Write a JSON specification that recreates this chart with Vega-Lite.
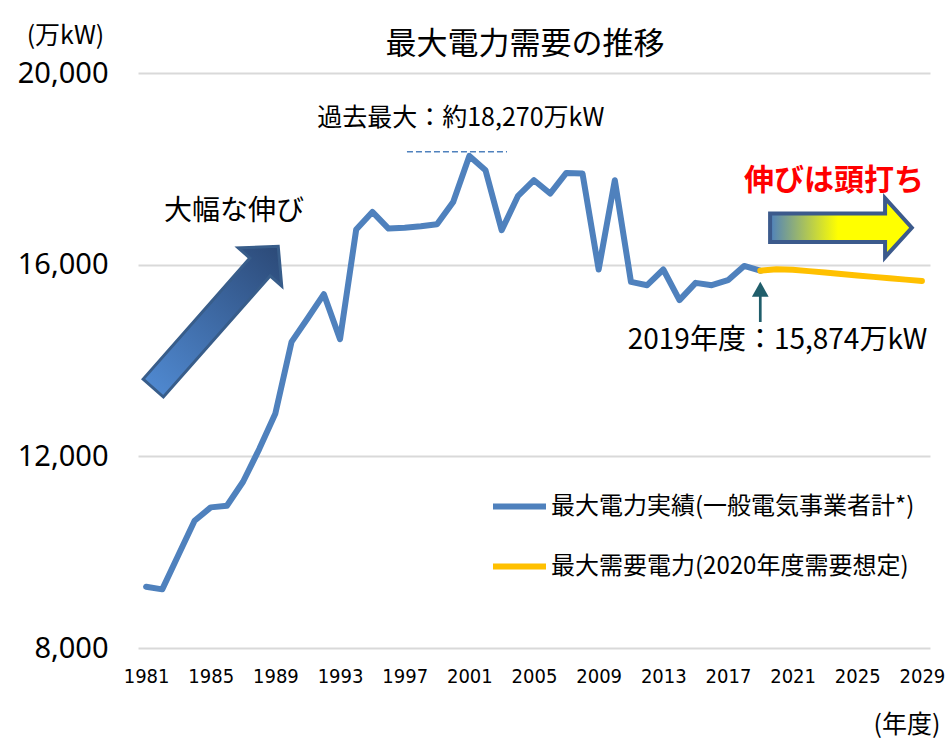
{
  "$schema": "https://vega.github.io/schema/vega-lite/v6.json",
  "autosize": {"type": "none"},
  "width": 792,
  "height": 575,
  "padding": {"left": 138, "top": 73, "right": 15, "bottom": 95},
  "background": "#ffffff",
  "title": {
    "text": "最大電力需要の推移",
    "font": "Noto Sans CJK JP",
    "fontSize": 31,
    "fontWeight": "normal",
    "color": "#000000",
    "anchor": "middle",
    "baseline": "bottom",
    "offset": -69,
    "dx": -9
  },
  "config": {
    "view": {"stroke": null},
    "legend": {
      "orient": "none",
      "legendX": 352,
      "legendY": 404,
      "padding": 0,
      "symbolType": "stroke",
      "symbolSize": 2809,
      "symbolStrokeWidth": 6,
      "labelFont": "Noto Sans CJK JP",
      "labelFontSize": 24,
      "labelColor": "#000000",
      "labelOffset": 2,
      "labelLimit": 600,
      "rowPadding": 18
    }
  },
  "layer": [
    {
      "data": {
        "values": [
          {"year": 1981, "value": 9279, "series": "最大電力実績(一般電気事業者計*)"},
          {"year": 1982, "value": 9224, "series": "最大電力実績(一般電気事業者計*)"},
          {"year": 1983, "value": 9940, "series": "最大電力実績(一般電気事業者計*)"},
          {"year": 1984, "value": 10655, "series": "最大電力実績(一般電気事業者計*)"},
          {"year": 1985, "value": 10935, "series": "最大電力実績(一般電気事業者計*)"},
          {"year": 1986, "value": 10968, "series": "最大電力実績(一般電気事業者計*)"},
          {"year": 1987, "value": 11469, "series": "最大電力実績(一般電気事業者計*)"},
          {"year": 1988, "value": 12151, "series": "最大電力実績(一般電気事業者計*)"},
          {"year": 1989, "value": 12896, "series": "最大電力実績(一般電気事業者計*)"},
          {"year": 1990, "value": 14389, "series": "最大電力実績(一般電気事業者計*)"},
          {"year": 1991, "value": 14883, "series": "最大電力実績(一般電気事業者計*)"},
          {"year": 1992, "value": 15384, "series": "最大電力実績(一般電気事業者計*)"},
          {"year": 1993, "value": 14445, "series": "最大電力実績(一般電気事業者計*)"},
          {"year": 1994, "value": 16733, "series": "最大電力実績(一般電気事業者計*)"},
          {"year": 1995, "value": 17100, "series": "最大電力実績(一般電気事業者計*)"},
          {"year": 1996, "value": 16754, "series": "最大電力実績(一般電気事業者計*)"},
          {"year": 1997, "value": 16771, "series": "最大電力実績(一般電気事業者計*)"},
          {"year": 1998, "value": 16802, "series": "最大電力実績(一般電気事業者計*)"},
          {"year": 1999, "value": 16844, "series": "最大電力実績(一般電気事業者計*)"},
          {"year": 2000, "value": 17309, "series": "最大電力実績(一般電気事業者計*)"},
          {"year": 2001, "value": 18270, "series": "最大電力実績(一般電気事業者計*)"},
          {"year": 2002, "value": 17970, "series": "最大電力実績(一般電気事業者計*)"},
          {"year": 2003, "value": 16719, "series": "最大電力実績(一般電気事業者計*)"},
          {"year": 2004, "value": 17428, "series": "最大電力実績(一般電気事業者計*)"},
          {"year": 2005, "value": 17762, "series": "最大電力実績(一般電気事業者計*)"},
          {"year": 2006, "value": 17484, "series": "最大電力実績(一般電気事業者計*)"},
          {"year": 2007, "value": 17914, "series": "最大電力実績(一般電気事業者計*)"},
          {"year": 2008, "value": 17901, "series": "最大電力実績(一般電気事業者計*)"},
          {"year": 2009, "value": 15899, "series": "最大電力実績(一般電気事業者計*)"},
          {"year": 2010, "value": 17762, "series": "最大電力実績(一般電気事業者計*)"},
          {"year": 2011, "value": 15640, "series": "最大電力実績(一般電気事業者計*)"},
          {"year": 2012, "value": 15571, "series": "最大電力実績(一般電気事業者計*)"},
          {"year": 2013, "value": 15899, "series": "最大電力実績(一般電気事業者計*)"},
          {"year": 2014, "value": 15259, "series": "最大電力実績(一般電気事業者計*)"},
          {"year": 2015, "value": 15620, "series": "最大電力実績(一般電気事業者計*)"},
          {"year": 2016, "value": 15571, "series": "最大電力実績(一般電気事業者計*)"},
          {"year": 2017, "value": 15676, "series": "最大電力実績(一般電気事業者計*)"},
          {"year": 2018, "value": 15974, "series": "最大電力実績(一般電気事業者計*)"},
          {"year": 2019, "value": 15874, "series": "最大電力実績(一般電気事業者計*)"},
          {"year": 2019, "value": 15874, "series": "最大需要電力(2020年度需要想定)"},
          {"year": 2020, "value": 15905, "series": "最大需要電力(2020年度需要想定)"},
          {"year": 2021, "value": 15895, "series": "最大需要電力(2020年度需要想定)"},
          {"year": 2022, "value": 15865, "series": "最大需要電力(2020年度需要想定)"},
          {"year": 2023, "value": 15835, "series": "最大需要電力(2020年度需要想定)"},
          {"year": 2024, "value": 15805, "series": "最大需要電力(2020年度需要想定)"},
          {"year": 2025, "value": 15775, "series": "最大需要電力(2020年度需要想定)"},
          {"year": 2026, "value": 15745, "series": "最大需要電力(2020年度需要想定)"},
          {"year": 2027, "value": 15715, "series": "最大需要電力(2020年度需要想定)"},
          {"year": 2028, "value": 15688, "series": "最大需要電力(2020年度需要想定)"},
          {"year": 2029, "value": 15660, "series": "最大需要電力(2020年度需要想定)"}
        ]
      },
      "mark": {"type": "line", "strokeWidth": 6, "strokeCap": "round", "strokeJoin": "round"},
      "encoding": {
        "x": {
          "field": "year",
          "type": "quantitative",
          "scale": {"domain": [1980.5, 2029.5], "nice": false, "zero": false},
          "axis": {
            "values": [1981, 1985, 1989, 1993, 1997, 2001, 2005, 2009, 2013, 2017, 2021, 2025, 2029],
            "format": "d",
            "grid": false,
            "domain": false,
            "ticks": false,
            "labelPadding": 18,
            "labelFont": "Liberation Sans Narrow, DejaVu Sans Condensed, sans-serif",
            "labelFontSize": 20,
            "labelFontWeight": "normal",
            "labelColor": "#000000",
            "labelBaseline": "top",
            "labelFlush": false,
            "labelOverlap": false,
            "title": "(年度)",
            "titleFont": "Noto Sans CJK JP",
            "titleFontSize": 25,
            "titleFontWeight": "normal",
            "titleColor": "#000000",
            "titleAlign": "right",
            "titleAnchor": null,
            "titleBaseline": "middle",
            "titleX": 802,
            "titleY": 76
          }
        },
        "y": {
          "field": "value",
          "type": "quantitative",
          "scale": {"domain": [8000, 20000], "nice": false, "zero": false},
          "axis": {
            "values": [8000, 12000, 16000, 20000],
            "format": ",d",
            "grid": true,
            "gridColor": "#d9d9d9",
            "gridWidth": 2,
            "domain": false,
            "ticks": false,
            "labelPadding": 30,
            "labelFont": "Noto Sans",
            "labelFontSize": 29,
            "labelColor": "#000000",
            "title": "(万kW)",
            "titleFont": "Noto Sans CJK JP",
            "titleFontSize": 25,
            "titleFontWeight": "normal",
            "titleColor": "#000000",
            "titleAngle": 0,
            "titleAlign": "center",
            "titleAnchor": null,
            "titleBaseline": "middle",
            "titleX": -73,
            "titleY": -38
          }
        },
        "color": {
          "field": "series",
          "type": "nominal",
          "scale": {
            "domain": ["最大電力実績(一般電気事業者計*)", "最大需要電力(2020年度需要想定)"],
            "range": ["#4f81bd", "#ffc000"]
          },
          "legend": {"title": null}
        }
      }
    },
    {
      "data": {"values": [{"year": 1997.14, "year2": 2003.33, "value": 18355}]},
      "mark": {"type": "rule", "color": "#4f81bd", "strokeWidth": 1.5, "strokeDash": [6, 3]},
      "encoding": {
        "x": {"field": "year", "type": "quantitative"},
        "x2": {"field": "year2"},
        "y": {"field": "value", "type": "quantitative"}
      }
    },
    {
      "data": {"values": [{"year": 1985.31, "value": 14904}]},
      "mark": {
        "type": "point",
        "shape": "M -1 -0.143 L 0.708 -0.143 L 0.708 -0.307 L 1 0 L 0.708 0.307 L 0.708 0.143 L -1 0.143 Z",
        "size": 35721,
        "angle": 311.4,
        "filled": true,
        "opacity": 1,
        "fill": {"gradient": "linear", "x1": 0, "y1": 0, "x2": 1, "y2": 0, "stops": [{"offset": 0, "color": "#4f88cf"}, {"offset": 1, "color": "#2c4a78"}]},
        "stroke": "#385d8a",
        "strokeWidth": 3
      },
      "encoding": {
        "x": {"field": "year", "type": "quantitative"},
        "y": {"field": "value", "type": "quantitative"}
      }
    },
    {
      "data": {"values": [{"year": 2023.99, "value": 16771}]},
      "mark": {
        "type": "point",
        "shape": "M -1 -0.2 L 0.623 -0.2 L 0.623 -0.416 L 1 0 L 0.623 0.416 L 0.623 0.2 L -1 0.2 Z",
        "size": 20079,
        "filled": true,
        "opacity": 1,
        "fill": {"gradient": "linear", "x1": 0, "y1": 0, "x2": 1, "y2": 0, "stops": [{"offset": 0, "color": "#4f81bd"}, {"offset": 0.48, "color": "#ffff00"}, {"offset": 1, "color": "#ffff00"}]},
        "stroke": "#3c5a8c",
        "strokeWidth": 4
      },
      "encoding": {
        "x": {"field": "year", "type": "quantitative"},
        "y": {"field": "value", "type": "quantitative"}
      }
    },
    {
      "data": {"values": [{"year": 2019, "value": 14804, "value2": 15346}]},
      "mark": {"type": "rule", "color": "#205e6b", "strokeWidth": 2.7},
      "encoding": {
        "x": {"field": "year", "type": "quantitative"},
        "y": {"field": "value", "type": "quantitative"},
        "y2": {"field": "value2"}
      }
    },
    {
      "data": {"values": [{"year": 2019, "value": 15488}]},
      "mark": {
        "type": "point",
        "shape": "M 0 -0.9 L 1 0.9 L -1 0.9 Z",
        "size": 279,
        "filled": true,
        "opacity": 1,
        "color": "#205e6b"
      },
      "encoding": {
        "x": {"field": "year", "type": "quantitative"},
        "y": {"field": "value", "type": "quantitative"}
      }
    },
    {
      "data": {"values": [{"year": 2000.47, "value": 19061, "label": "過去最大：約18,270万kW"}]},
      "mark": {"type": "text", "font": "Noto Sans CJK JP", "fontSize": 25, "color": "#000000", "align": "center", "baseline": "middle"},
      "encoding": {
        "x": {"field": "year", "type": "quantitative"},
        "y": {"field": "value", "type": "quantitative"},
        "text": {"field": "label"}
      }
    },
    {
      "data": {"values": [{"year": 1986.44, "value": 17105, "label": "大幅な伸び"}]},
      "mark": {"type": "text", "font": "Noto Sans CJK JP", "fontSize": 28, "color": "#000000", "align": "center", "baseline": "middle"},
      "encoding": {
        "x": {"field": "year", "type": "quantitative"},
        "y": {"field": "value", "type": "quantitative"},
        "text": {"field": "label"}
      }
    },
    {
      "data": {"values": [{"year": 2023.56, "value": 17746, "label": "伸びは頭打ち"}]},
      "mark": {"type": "text", "font": "Noto Sans CJK JP", "fontSize": 30, "fontWeight": "bold", "color": "#ff0000", "align": "center", "baseline": "middle"},
      "encoding": {
        "x": {"field": "year", "type": "quantitative"},
        "y": {"field": "value", "type": "quantitative"},
        "text": {"field": "label"}
      }
    },
    {
      "data": {"values": [{"year": 2020.07, "value": 14397, "label": "2019年度：15,874万kW"}]},
      "mark": {"type": "text", "font": "Noto Sans CJK JP", "fontSize": 28, "color": "#000000", "align": "center", "baseline": "middle"},
      "encoding": {
        "x": {"field": "year", "type": "quantitative"},
        "y": {"field": "value", "type": "quantitative"},
        "text": {"field": "label"}
      }
    }
  ]
}
